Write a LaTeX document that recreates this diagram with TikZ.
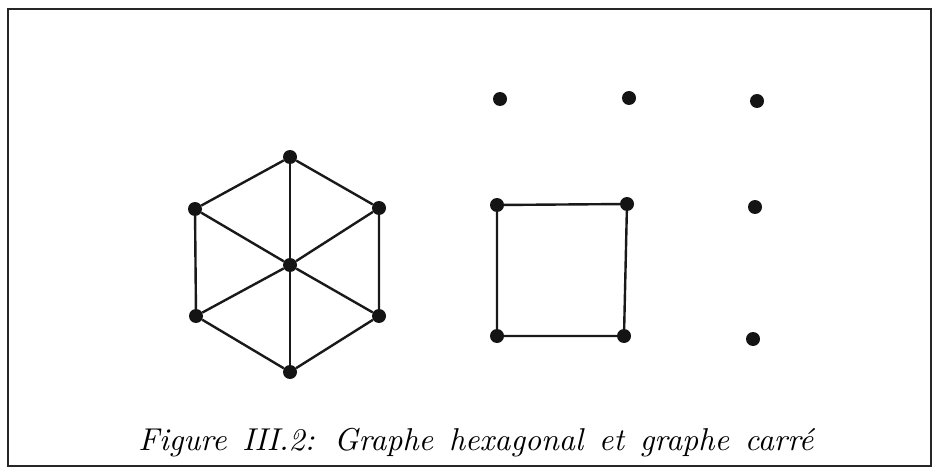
\documentclass[tikz,border=0pt]{standalone}
\usepackage{fontspec}
\usepackage{graphicx}
\begin{document}
\begin{tikzpicture}[x=1pt,y=-1pt,
  dot/.style={circle,fill=black!92,inner sep=0pt,minimum size=14pt},
  edge/.style={line width=2.4pt,black!90},
  frame/.style={line width=2.8pt,black!85}]
\useasboundingbox (0,0) rectangle (932,468);
% frame
\draw[frame] (8,467) -- (8,9) -- (931,9) -- (931,467);
\draw[frame] (8,466) -- (931,466);
% hexagonal graph
\node[dot] (t)  at (290,157) {};
\node[dot] (ul) at (195,209) {};
\node[dot] (ur) at (379,208) {};
\node[dot] (c)  at (290,265) {};
\node[dot] (ll) at (196,316) {};
\node[dot] (lr) at (379,316) {};
\node[dot] (b)  at (290,372) {};
\draw[edge] (t) -- (ul) -- (ll) -- (b) -- (lr) -- (ur) -- (t);
\draw[edge] (t) -- (c) -- (b);
\draw[edge] (ul) -- (c) -- (lr);
\draw[edge] (ur) -- (c) -- (ll);
% square graph
\node[dot] (s1) at (497,205) {};
\node[dot] (s2) at (627,204) {};
\node[dot] (s3) at (624,336) {};
\node[dot] (s4) at (497,336) {};
\draw[edge] (s1) -- (s2) -- (s3) -- (s4) -- (s1);
% isolated vertices
\node[dot] (i1) at (500,99) {};
\node[dot] (i2) at (629,98) {};
\node[dot] (i3) at (757,101) {};
\node[dot] (i4) at (755,207) {};
\node[dot] (i5) at (753,339) {};
% caption
\node[anchor=base,inner sep=0pt] (cap) at (476,450)
  {\resizebox{675pt}{!}{\itshape\addfontfeatures{LetterSpace=4}\spaceskip=5pt plus 1pt Figure III.2: Graphe hexagonal et graphe carré}};
\end{tikzpicture}
\end{document}
